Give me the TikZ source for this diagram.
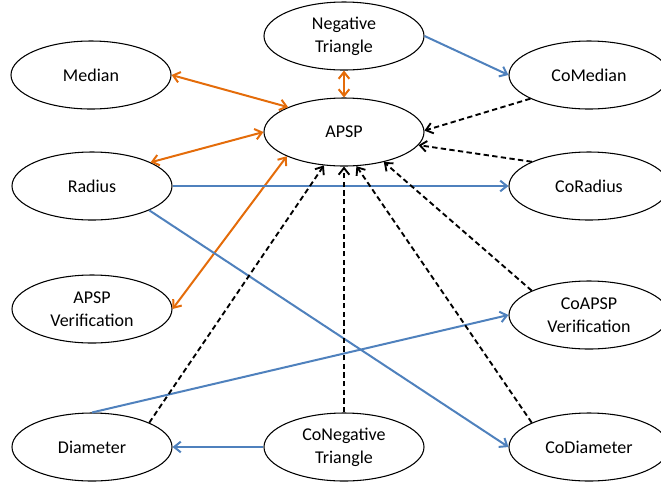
\documentclass[tikz,border=0pt]{standalone}
\usepackage{fontspec}
\setmainfont{Carlito}
\usetikzlibrary{shapes.geometric,arrows.meta}
\definecolor{orng}{RGB}{228,108,10}
\definecolor{blu}{RGB}{79,129,189}
\begin{document}
\begin{tikzpicture}[x=0.75pt,y=-0.75pt,
  prob/.style={ellipse,draw=black,line width=0.8pt,fill=white,minimum width=120pt,minimum height=51pt,inner sep=0pt,align=center,font=\fontsize{13.5}{17}\selectfont},
  tip/.style={Straight Barb[length=5pt,width=8pt]},
  equiv/.style={draw=orng,line width=1.5pt,{Straight Barb[length=5pt,width=8pt]}-{Straight Barb[length=5pt,width=8pt]}},
  red/.style={draw=blu,line width=1.5pt,-{Straight Barb[length=5pt,width=8pt]}},
  sub/.style={draw=black,line width=1.4pt,dash pattern=on 4pt off 2.5pt,-{Straight Barb[length=5pt,width=8pt]}}]
\useasboundingbox (0,0) rectangle (661,487);
\node[prob] (med) at (91,75) {Median};
\node[prob] (ntri) at (344,36) {Negative\\Triangle};
\node[prob] (apsp) at (344,132) {APSP};
\node[prob] (comed) at (589,75) {CoMedian};
\node[prob] (rad) at (92,186) {Radius};
\node[prob] (corad) at (589,186) {CoRadius};
\node[prob] (apver) at (92,309) {APSP\\Verification};
\node[prob] (coapver) at (589,315) {CoAPSP\\Verification};
\node[prob] (diam) at (92,447) {Diameter};
\node[prob] (contri) at (344,447) {CoNegative\\Triangle};
\node[prob] (codiam) at (589,447) {CoDiameter};
% orange equivalences
\draw[equiv] (med.0) -- (apsp.156);
\draw[equiv] (rad.22.5) -- (apsp.180);
\draw[equiv] (apver.0) -- (apsp.203);
\draw[equiv] (ntri.south) -- (apsp.north);
% blue reductions
\draw[red] (ntri.0) -- (comed.180);
\draw[red] (rad.0) -- (corad.180);
\draw[red] (rad.337.5) -- (codiam.180);
\draw[red] (diam.north) -- (coapver.180);
\draw[red] (contri.180) -- (diam.0);
% dashed
\draw[sub] (comed.202) -- (apsp.1);
\draw[sub] (corad.157) -- (apsp.350);
\draw[sub] (coapver.157) -- (apsp.323);
\draw[sub] (codiam.157) -- (apsp.290);
\draw[sub] (contri.north) -- (apsp.south);
\draw[sub] (diam.23) -- (apsp.239);
\end{tikzpicture}
\end{document}
